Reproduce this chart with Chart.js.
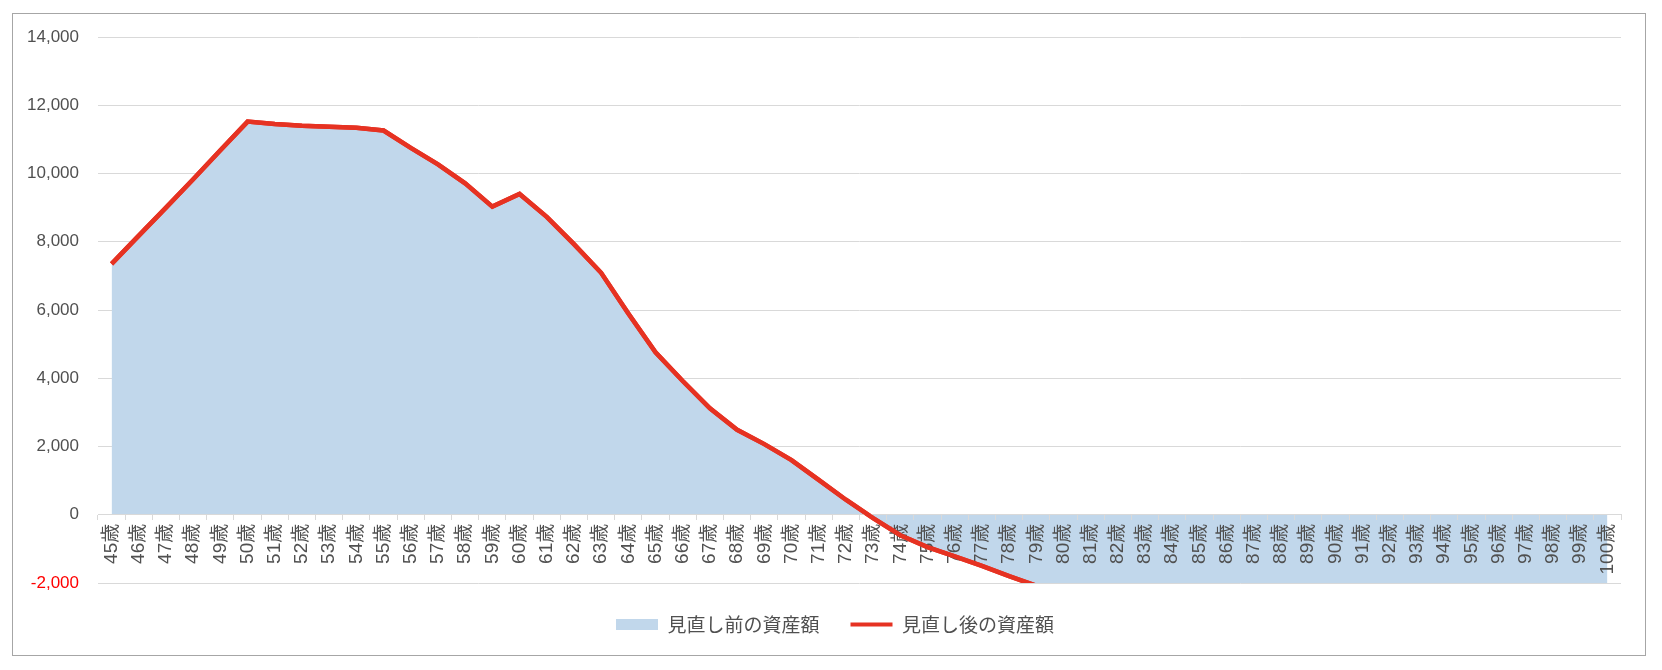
<!DOCTYPE html>
<html lang="ja">
<head>
<meta charset="utf-8">
<title>見直し前後の資産額</title>
<script src="https://cdn.jsdelivr.net/npm/chart.js@4.4.1/dist/chart.umd.min.js"></script>
<style>
  html, body { margin: 0; padding: 0; background: #fff; }
  #frame {
    position: absolute; left: 12px; top: 13px;
    width: 1634px; height: 643px;
    box-sizing: border-box; border: 1px solid #a6a6a6;
  }
  #frame canvas { display: block; }
</style>
</head>
<body>
<div id="frame"><canvas id="assetChart"></canvas></div>
<script>
// 年齢（カテゴリ）
var ages = [
  "45歳","46歳","47歳","48歳","49歳","50歳","51歳","52歳","53歳","54歳",
  "55歳","56歳","57歳","58歳","59歳","60歳","61歳","62歳","63歳","64歳",
  "65歳","66歳","67歳","68歳","69歳","70歳","71歳","72歳","73歳","74歳",
  "75歳","76歳","77歳","78歳","79歳","80歳","81歳","82歳","83歳","84歳",
  "85歳","86歳","87歳","88歳","89歳","90歳","91歳","92歳","93歳","94歳",
  "95歳","96歳","97歳","98歳","99歳","100歳"
];

// 見直し前の資産額（面）
var beforeValues = [
  7350, 8180, 9000, 9830, 10680, 11520, 11450, 11400, 11370, 11340,
  11260, 10750, 10270, 9710, 9030, 9400, 8730, 7930, 7090, 5900,
  4760, 3920, 3120, 2490, 2070, 1600, 1020, 440, -100, -600,
  -950, -1220, -1500, -1800, -2080, -2350, -2620, -2900, -3180, -3470,
  -3760, -4050, -4350, -4650, -4960, -5270, -5590, -5910, -6240, -6570,
  -6910, -7250, -7600, -7950, -8310, -8670
];

// 見直し後の資産額（線）
var afterValues = [
  7350, 8180, 9000, 9830, 10680, 11520, 11450, 11400, 11370, 11340,
  11260, 10750, 10270, 9710, 9030, 9400, 8730, 7930, 7090, 5900,
  4760, 3920, 3120, 2490, 2070, 1600, 1020, 440, -100, -600,
  -950, -1220, -1500, -1800, -2080, -2350, -2620, -2900, -3180, -3470,
  -3760, -4050, -4350, -4650, -4960, -5270, -5590, -5910, -6240, -6570,
  -6910, -7250, -7600, -7950, -8310, -8670
];

// 縦軸の目盛
var yMin = -2000;
var yMax = 14000;
var yStep = 2000;

var seriesNames = ["見直し前の資産額", "見直し後の資産額"];

var latinFont = '"Liberation Sans", "Noto Sans CJK JP", sans-serif';
Chart.defaults.font.family = '"Noto Sans CJK JP", "Noto Sans", sans-serif';
Chart.defaults.color = "#505050";

// 凡例の位置を少しずらす
var legendNudge = {
  id: "legendNudge",
  afterLayout: function (chart) {
    var lg = chart.legend;
    lg.left += 18; lg.right += 18;
    lg.top += 1; lg.bottom += 1;
  }
};

// 折れ線を軸ラベルより手前に描き直す
var lineOnTop = {
  id: "lineOnTop",
  afterDraw: function (chart) {
    var a = chart.chartArea;
    var ctx = chart.ctx;
    ctx.save();
    ctx.beginPath();
    ctx.rect(a.left, a.top, a.right - a.left, a.bottom - a.top);
    ctx.clip();
    chart.getDatasetMeta(1).controller.draw();
    ctx.restore();
  }
};

new Chart("assetChart", {
  type: "line",
  data: {
    labels: ages,
    datasets: [{
      label: seriesNames[0],
      data: beforeValues,
      backgroundColor: "#c1d7eb",
      borderColor: "#c1d7eb",
      borderWidth: 0,
      pointRadius: 0,
      fill: "origin",
      tension: 0,
      order: 1
    }, {
      label: seriesNames[1],
      data: afterValues,
      borderColor: "#e63222",
      backgroundColor: "#e63222",
      borderWidth: 4.5,
      pointRadius: 0,
      fill: false,
      tension: 0,
      clip: 0,
      order: 0
    }]
  },
  options: {
    responsive: true,
    maintainAspectRatio: false,
    animation: false,
    layout: { padding: { top: 23, right: 24, bottom: 12, left: 0 } },
    plugins: {
      tooltip: { enabled: false },
      legend: {
        position: "bottom",
        labels: {
          usePointStyle: true,
          pointStyleWidth: 42,
          boxHeight: 11,
          padding: 31,
          font: { size: 19 },
          color: "#505050",
          generateLabels: function (chart) {
            return chart.data.datasets.map(function (ds, i) {
              return {
                text: ds.label,
                datasetIndex: i,
                fillStyle: ds.backgroundColor,
                strokeStyle: ds.borderColor,
                lineWidth: i === 0 ? 0 : 4,
                pointStyle: i === 0 ? "rect" : "line",
                fontColor: "#505050",
                hidden: false
              };
            });
          }
        }
      }
    },
    scales: {
      x: {
        position: { y: 0 },
        offset: true,
        grid: {
          offset: true,
          drawOnChartArea: false,
          drawTicks: true,
          tickLength: 5,
          color: "#d9d9d9",
          z: 1
        },
        border: { color: "#d9d9d9", width: 1, z: 1 },
        ticks: {
          minRotation: 90,
          maxRotation: 90,
          autoSkip: false,
          padding: 4,
          font: { size: 19, family: latinFont },
          color: "#505050",
          z: 1
        },
        afterFit: function (scale) { scale.height = 0; }
      },
      y: {
        min: yMin,
        max: yMax,
        grid: { color: "#d9d9d9", lineWidth: 1, drawTicks: false },
        border: { display: false },
        ticks: {
          stepSize: yStep,
          padding: 19,
          font: { size: 17, family: latinFont },
          color: function (ctx) { return ctx.tick && ctx.tick.value < 0 ? "#ff0000" : "#505050"; },
          callback: function (v) { return Number(v).toLocaleString("en-US"); }
        },
        afterFit: function (scale) {
          scale.width = 85;
          scale.paddingTop = 0;
          scale.paddingBottom = 0;
        }
      }
    }
  },
  plugins: [legendNudge, lineOnTop]
});
</script>
</body>
</html>
